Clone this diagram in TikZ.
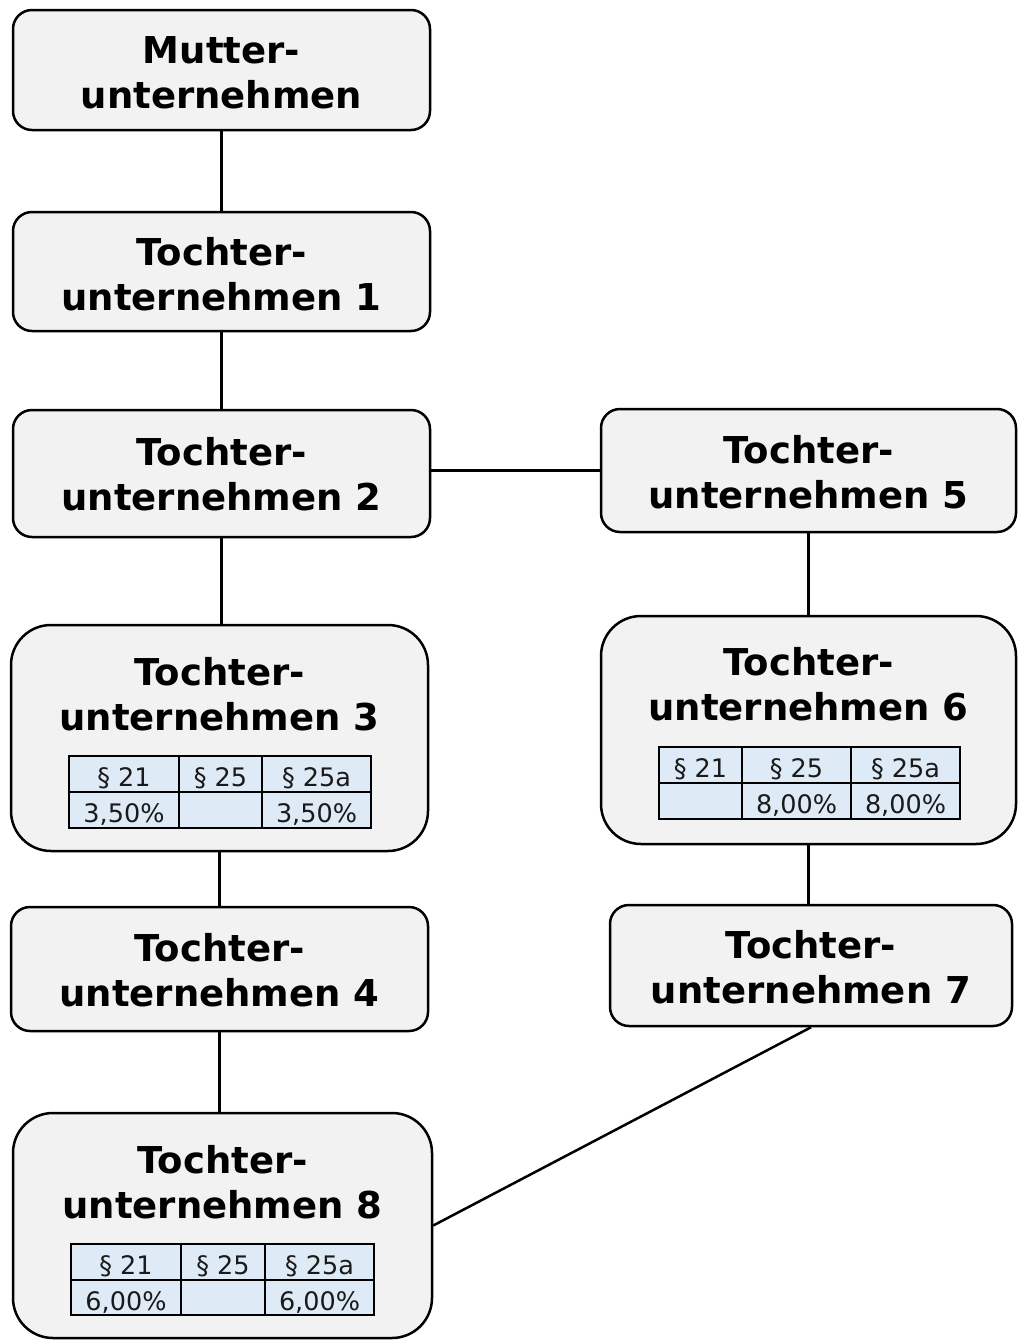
\documentclass[tikz,border=0pt]{standalone}
\usepackage{fontspec}
\setmainfont{DejaVu Sans}
\definecolor{boxfill}{HTML}{F2F2F2}
\definecolor{tabfill}{HTML}{DEEBF7}
\definecolor{tabtext}{HTML}{1A1A1A}
\begin{document}
\begin{tikzpicture}[x=1pt,y=-1pt,
  company/.style={draw, line width=2.5pt, fill=boxfill, rounded corners=19pt, inner sep=0pt},
  bigcompany/.style={company, rounded corners=40pt},
  title/.style={inner sep=0pt, align=center, font=\fontsize{37}{45}\selectfont\bfseries},
  cell/.style={draw, line width=2pt, fill=tabfill, inner sep=0pt, anchor=north west,
    text height=25pt, text depth=0pt, text=tabtext, font=\fontsize{25.5}{28}\selectfont},
  link/.style={line width=2.5pt}]
\useasboundingbox (0,0) rectangle (1018,1341);

% boxes
\node[company, minimum width=417pt, minimum height=120pt] (M) at (221.5,70) {};
\node[company, minimum width=417pt, minimum height=119pt] (T1) at (221.5,271.5) {};
\node[company, minimum width=417pt, minimum height=127pt] (T2) at (221.5,473.5) {};
\node[company, minimum width=415pt, minimum height=123pt] (T5) at (808.5,470.5) {};
\node[bigcompany, minimum width=417pt, minimum height=226pt] (T3) at (219.5,738) {};
\node[bigcompany, minimum width=415pt, minimum height=228pt] (T6) at (808.5,730) {};
\node[company, minimum width=417pt, minimum height=124pt] (T4) at (219.5,969) {};
\node[company, minimum width=402pt, minimum height=121pt] (T7) at (811,965.5) {};
\node[bigcompany, minimum width=419pt, minimum height=225pt] (T8) at (222.5,1225.5) {};

% titles
\node[title] (Mt) at (221.5,73) {Mutter-\\unternehmen};
\node[title] (T1t) at (221.5,274.5) {Tochter-\\unternehmen 1};
\node[title] (T2t) at (221.5,474) {Tochter-\\unternehmen 2};
\node[title] (T5t) at (808.5,472.5) {Tochter-\\unternehmen 5};
\node[title] (T3t) at (219.5,694.5) {Tochter-\\unternehmen 3};
\node[title] (T6t) at (808.5,684.5) {Tochter-\\unternehmen 6};
\node[title] (T4t) at (219.5,970.5) {Tochter-\\unternehmen 4};
\node[title] (T7t) at (811,967.5) {Tochter-\\unternehmen 7};
\node[title] (T8t) at (222.5,1182) {Tochter-\\unternehmen 8};

% table 3
\node[cell, minimum width=110pt, minimum height=36pt] (T3a1) at (68,755) {§ 21};
\node[cell, minimum width=83pt, minimum height=36pt] (T3b1) at (178,755) {§ 25};
\node[cell, minimum width=109pt, minimum height=36pt] (T3c1) at (261,755) {§ 25a};
\node[cell, minimum width=110pt, minimum height=36pt] (T3a2) at (68,791) {3,50\%};
\node[cell, minimum width=83pt, minimum height=36pt] (T3b2) at (178,791) {};
\node[cell, minimum width=109pt, minimum height=36pt] (T3c2) at (261,791) {3,50\%};

% table 6
\node[cell, minimum width=83pt, minimum height=36pt] (T6a1) at (658,746) {§ 21};
\node[cell, minimum width=109pt, minimum height=36pt] (T6b1) at (741,746) {§ 25};
\node[cell, minimum width=109pt, minimum height=36pt] (T6c1) at (850,746) {§ 25a};
\node[cell, minimum width=83pt, minimum height=36pt] (T6a2) at (658,782) {};
\node[cell, minimum width=109pt, minimum height=36pt] (T6b2) at (741,782) {8,00\%};
\node[cell, minimum width=109pt, minimum height=36pt] (T6c2) at (850,782) {8,00\%};

% table 8
\node[cell, minimum width=110pt, minimum height=36pt] (T8a1) at (70,1243) {§ 21};
\node[cell, minimum width=84pt, minimum height=36pt] (T8b1) at (180,1243) {§ 25};
\node[cell, minimum width=109pt, minimum height=36pt] (T8c1) at (264,1243) {§ 25a};
\node[cell, minimum width=110pt, minimum height=35pt] (T8a2) at (70,1279) {6,00\%};
\node[cell, minimum width=84pt, minimum height=35pt] (T8b2) at (180,1279) {};
\node[cell, minimum width=109pt, minimum height=35pt] (T8c2) at (264,1279) {6,00\%};

% connectors
\draw[link] (M.south) -- (M.south |- T1.north);
\draw[link] (T1.south) -- (T1.south |- T2.north);
\draw[link] (T2.east |- T5.west) -- (T5.west);
\draw[link] (T2.south) -- (T2.south |- T3.north);
\draw[link] (T5.south) -- (T5.south |- T6.north);
\draw[link] (T3.south) -- (T3.south |- T4.north);
\draw[link] (T6.south) -- (T6.south |- T7.north);
\draw[link] (T4.south) -- (T4.south |- T8.north);
\draw[link] (T7.south) -- (T8.east);
\end{tikzpicture}
\end{document}
